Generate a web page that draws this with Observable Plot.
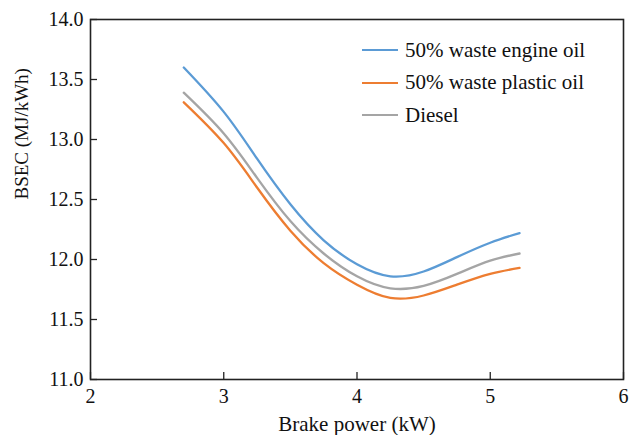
<!DOCTYPE html>
<html>
<head>
<meta charset="utf-8">
<script src="https://cdn.jsdelivr.net/npm/d3@7"></script>
<script src="https://cdn.jsdelivr.net/npm/@observablehq/plot@0.6"></script>
<style>
  html, body { margin: 0; padding: 0; background: #fff; }
  #wrap { position: relative; width: 629px; height: 435px; font-family: "Liberation Serif", "Times New Roman", serif; }
  #wrap svg text { font-family: "Liberation Serif", "Times New Roman", serif; }
  #legend { position: absolute; left: 362px; top: 34px; font-size: 21px; color: #111; font-family: "Liberation Serif", "Times New Roman", serif; }
  .row { display: flex; align-items: center; height: 32.5px; }
  .sw { width: 36px; height: 0; border-top: 2.5px solid; margin-right: 7px; }
</style>
</head>
<body>
<div id="wrap"></div>
<script>
const power = [2.7, 3.0, 3.25, 3.5, 3.75, 4.0, 4.25, 4.5, 4.75, 5.0, 5.22];
const engineOil = [13.60, 13.23, 12.84, 12.46, 12.16, 11.96, 11.86, 11.90, 12.02, 12.14, 12.22];
const plasticOil = [13.31, 12.97, 12.60, 12.24, 11.97, 11.79, 11.68, 11.70, 11.79, 11.88, 11.93];
const diesel = [13.39, 13.05, 12.68, 12.32, 12.05, 11.86, 11.76, 11.78, 11.88, 11.99, 12.05];
const seriesNames = ["50% waste engine oil", "50% waste plastic oil", "Diesel"];
const seriesColors = ["#5B9BD5", "#ED7D31", "#A5A5A5"];
const xTicks = [2, 3, 4, 5, 6];
const yTicks = [11.0, 11.5, 12.0, 12.5, 13.0, 13.5, 14.0];

const seriesValues = [engineOil, plasticOil, diesel];
const rows = [];
seriesNames.forEach((name, i) => power.forEach((p, j) => rows.push({series: name, x: p, y: seriesValues[i][j]})));

const W = 629, H = 435, mL = 90, mR = 6, mT = 19, mB = 56;
const plotW = W - mL - mR, plotH = H - mT - mB;

const chart = Plot.plot({
  width: W, height: H,
  marginLeft: mL, marginRight: mR, marginTop: mT, marginBottom: mB,
  style: {fontFamily: "'Liberation Serif', 'Times New Roman', serif", fontSize: "20px", color: "#111", background: "#fff", overflow: "visible"},
  x: {domain: [2, 6], label: null},
  y: {domain: [11, 14], label: null},
  color: {domain: seriesNames, range: seriesColors},
  marks: [
    Plot.gridX(xTicks, {stroke: "#222", strokeOpacity: 1, strokeWidth: 1.3, insetTop: plotH - 7}),
    Plot.gridY(yTicks, {stroke: "#222", strokeOpacity: 1, strokeWidth: 1.3, insetRight: plotW - 7}),
    Plot.line(rows, {x: "x", y: "y", stroke: "series", z: "series", curve: "natural", strokeWidth: 2.3}),
    Plot.frame({stroke: "#222", strokeWidth: 1.6}),
    Plot.axisX(xTicks, {tickSize: 0, tickPadding: 9, tickFormat: d => String(d), label: null}),
    Plot.axisY(yTicks, {tickSize: 0, tickPadding: 7, tickFormat: d3.format(".1f"), label: null}),
    Plot.text(["Brake power (kW)"], {frameAnchor: "bottom", dy: 45, lineAnchor: "middle", fontSize: 21, fill: "#111"}),
    Plot.text(["BSEC (MJ/kWh)"], {frameAnchor: "left", dx: -69, rotate: -90, lineAnchor: "middle", fontSize: 19, fill: "#111"})
  ]
});

const wrap = document.getElementById("wrap");
wrap.appendChild(chart);
const legend = document.createElement("div");
legend.id = "legend";
seriesNames.forEach((name, i) => {
  const row = document.createElement("div");
  row.className = "row";
  const sw = document.createElement("span");
  sw.className = "sw";
  sw.style.borderColor = seriesColors[i];
  const t = document.createElement("span");
  t.textContent = name;
  row.appendChild(sw); row.appendChild(t);
  legend.appendChild(row);
});
wrap.appendChild(legend);
</script>
</body>
</html>
